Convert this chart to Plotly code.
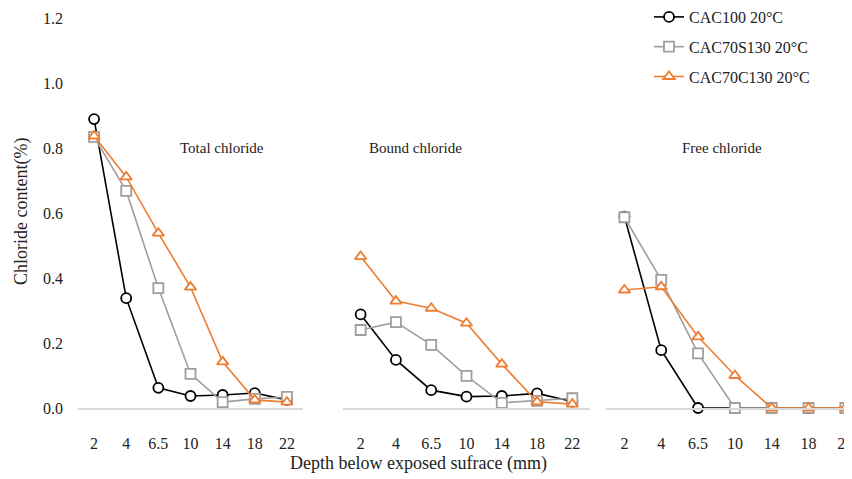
import plotly.graph_objects as go

depths = ["2", "4", "6.5", "10", "14", "18", "22"]
series_names = ["CAC100 20°C", "CAC70S130 20°C", "CAC70C130 20°C"]

total_cac100 = [0.889, 0.338, 0.062, 0.037, 0.040, 0.046, 0.025]
total_s130 = [0.834, 0.668, 0.369, 0.105, 0.018, 0.028, 0.034]
total_c130 = [0.837, 0.711, 0.538, 0.372, 0.142, 0.025, 0.018]

bound_cac100 = [0.288, 0.148, 0.055, 0.035, 0.037, 0.045, 0.020]
bound_s130 = [0.240, 0.264, 0.194, 0.099, 0.016, 0.022, 0.030]
bound_c130 = [0.466, 0.329, 0.307, 0.261, 0.135, 0.019, 0.012]

free_cac100 = [0.589, 0.178, 0.0, 0.0, 0.0, 0.0, 0.0]
free_s130 = [0.587, 0.394, 0.168, 0.0, 0.0, 0.0, 0.0]
free_c130 = [0.363, 0.373, 0.219, 0.100, 0.0, 0.0, 0.0]

panel_titles = ["Total chloride", "Bound chloride", "Free chloride"]

panels = [
    [total_cac100, total_s130, total_c130],
    [bound_cac100, bound_s130, bound_c130],
    [free_cac100, free_s130, free_c130],
]

colors = ["#000000", "#a39d9b", "#ed7d31"]
symbols = ["circle", "square", "triangle-up"]

FONT = "Liberation Serif, Times New Roman, serif"
# page body has an 8px margin, so the figure is offset by 8px
OFF = 8
W, H = 852 - OFF, 479 - OFF

def px(x):
    return (x - OFF) / W

Y0, Y1 = 408 - OFF, 18 - OFF  # pixel rows of y=0 and y=1.2
PH = Y0 - Y1

fig = go.Figure()
for p, data in enumerate(panels):
    xa = "x" if p == 0 else f"x{p+1}"
    for s, vals in enumerate(data):
        fig.add_trace(go.Scatter(
            x=depths, y=vals, xaxis=xa, yaxis="y",
            mode="lines+markers",
            name=series_names[s],
            legendgroup=series_names[s],
            showlegend=(p == 0),
            line=dict(color=colors[s], width=1.6),
            marker=dict(symbol=symbols[s], size=10, color="white",
                        line=dict(color=colors[s], width=1.8)),
            cliponaxis=False,
        ))

domains = [(78, 303), (343, 590), (606, 852)]
ranges = [(-0.5, 6.5), (-0.5, 6.5), (-0.5, 6.18)]
axis_common = dict(
    type="category", showgrid=False, zeroline=False,
    showline=True, linecolor="#d9d9d9", linewidth=1.5,
    ticks="outside", ticklen=0, ticklabelstandoff=20,
    tickfont=dict(family=FONT, size=16, color="#222"),
)
layout = {}
for i, (d, r) in enumerate(zip(domains, ranges)):
    key = "xaxis" if i == 0 else f"xaxis{i+1}"
    ax = dict(axis_common, domain=[px(d[0]), min(px(d[1]), 1.0)], range=list(r))
    if i > 0:
        ax["anchor"] = "y"
    layout[key] = ax

fig.update_layout(**layout)
fig.update_layout(
    width=W, height=H,
    margin=dict(l=0, r=0, t=Y1, b=H - Y0, autoexpand=False),
    paper_bgcolor="white", plot_bgcolor="white",
    yaxis=dict(range=[0, 1.2], tickvals=[0, 0.2, 0.4, 0.6, 0.8, 1.0, 1.2],
               ticktext=["0.0", "0.2", "0.4", "0.6", "0.8", "1.0", "1.2"],
               showgrid=False, zeroline=False, showline=False,
               ticklabelstandoff=14, anchor="x",
               tickfont=dict(family=FONT, size=16, color="#222")),
    legend=dict(x=px(649), y=1.0 + (Y1 + 8) / PH, xanchor="left", yanchor="top",
                font=dict(family=FONT, size=16, color="#222"),
                tracegroupgap=6, bgcolor="rgba(0,0,0,0)"),
    showlegend=True,
)

title_x = [222, 415, 722]
for t, x in zip(panel_titles, title_x):
    fig.add_annotation(text=t, x=px(x), xref="paper", xanchor="center",
                       y=0.8, yref="y", yanchor="middle",
                       showarrow=False, font=dict(family=FONT, size=15, color="#222"))

fig.add_annotation(text="Depth below exposed sufrace (mm)", x=px(418), xref="paper",
                   xanchor="center", y=(Y0 - (463 - OFF)) / PH, yref="paper",
                   yanchor="middle", showarrow=False,
                   font=dict(family=FONT, size=18, color="#222"))
fig.add_annotation(text="Chloride content(%)", x=px(21), xref="paper", xanchor="center",
                   y=(Y0 - (212 - OFF)) / PH, yref="paper", yanchor="middle",
                   showarrow=False, textangle=-90,
                   font=dict(family=FONT, size=18, color="#222"))

fig.write_html("out.html")
